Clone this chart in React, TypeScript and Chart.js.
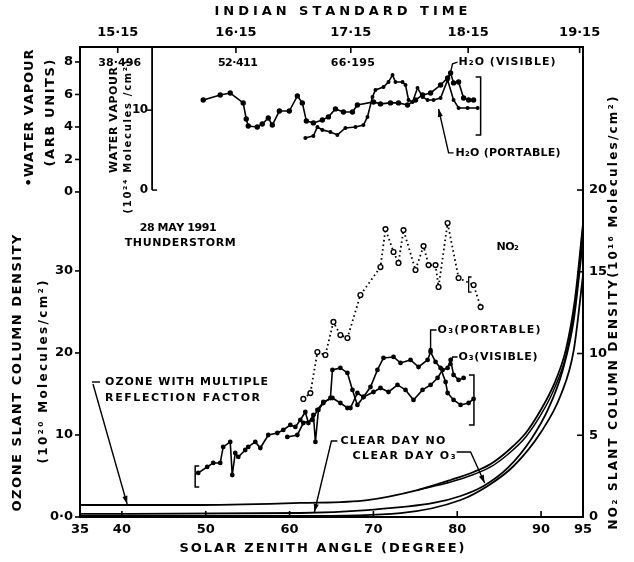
import React, { useEffect, useRef } from 'react';
import { Chart, registerables } from 'chart.js';

Chart.register(...registerables);

// ---------- axis ranges & ticks ----------
const SZA_MIN = 35;
const SZA_MAX = 95;
const OZONE_MIN = 0;
const OZONE_MAX = 57.3;
const NO2_MIN = 0;
const NO2_MAX = 28.75;
const VAPOUR_MIN = -20.0;
const VAPOUR_MAX = 8.92;
const VAPOUR_MOL_MIN = -40.9;
const VAPOUR_MOL_MAX = 17.9;

const szaTicks = [35, 40, 50, 60, 70, 80, 90, 95];
const istTickSza = [39.5, 53.6, 67.3, 81.3, 94.6];
const istLabels = ['15·15', '16·15', '17·15', '18·15', '19·15'];
const istSzaLabels = ['38·496', '52·411', '66·195'];
const ozoneTicks = [0, 10, 20, 30];
const ozoneTickLabels = ['0·0', '10', '20', '30'];
const vapourTicks = [0, 2, 4, 6, 8];
const vapourMolTicks = [0, 10];
const vapourMolAxisSza = 43.6;
const no2Ticks = [0, 5, 10, 15, 20];

// ---------- water vapour (arb units) ----------
const h2oVisibleSza = [49.70, 51.73, 52.92, 54.47, 54.83, 55.07, 56.15, 56.74, 57.46, 57.94, 58.78, 59.97, 60.93, 61.52, 62.00, 62.84, 63.91, 64.63, 65.47, 66.42, 67.50, 68.09, 70.01, 70.84, 72.04, 72.99, 74.07, 75.02, 75.86, 76.82, 78.01, 78.85, 79.21, 79.56, 80.16, 80.76, 81.36, 81.95];
const h2oVisible = [5.66, 5.97, 6.09, 5.48, 4.49, 4.06, 4.00, 4.18, 4.55, 4.12, 4.98, 4.98, 5.91, 5.48, 4.37, 4.25, 4.43, 4.62, 5.11, 4.92, 4.92, 5.35, 5.54, 5.42, 5.48, 5.48, 5.35, 5.66, 5.97, 6.09, 6.58, 7.02, 7.32, 6.71, 6.77, 5.78, 5.66, 5.66];

const h2oPortableSza = [61.88, 62.84, 63.32, 63.91, 64.87, 65.70, 66.66, 67.86, 68.81, 69.29, 69.89, 70.24, 71.20, 71.80, 72.28, 72.63, 73.47, 73.83, 74.19, 74.67, 75.26, 75.86, 76.46, 77.17, 78.01, 78.85, 79.56, 80.16, 81.24, 82.43];
const h2oPortable = [3.32, 3.45, 4.00, 3.82, 3.69, 3.51, 3.94, 4.00, 4.12, 4.62, 5.85, 6.28, 6.46, 6.77, 7.20, 6.77, 6.77, 6.58, 5.66, 5.54, 6.40, 5.85, 5.66, 5.66, 5.78, 6.89, 5.66, 5.17, 5.17, 5.17];

const h2oBarSza = [82.19, 82.79, 82.79, 82.19];
const h2oBar = [7.08, 7.08, 3.51, 3.51];

// ---------- ozone (10^20 molecules/cm^2) ----------
const o3PortableSza = [49.10, 50.17, 50.89, 51.73, 52.08, 52.92, 53.16, 53.52, 53.88, 54.71, 55.07, 55.91, 56.51, 57.46, 58.54, 59.25, 60.09, 60.69, 61.28, 61.88, 62.24, 62.84, 63.08, 63.44, 64.03, 64.87, 65.11, 66.06, 66.90, 67.50, 68.09, 68.81, 69.65, 70.48, 71.20, 72.40, 73.23, 74.43, 75.38, 76.46, 76.82, 77.41, 78.01, 78.61, 78.85, 79.56, 80.40, 81.36, 81.95];
const o3Portable = [5.37, 6.10, 6.59, 6.59, 8.54, 9.15, 5.12, 7.80, 7.32, 8.17, 8.54, 9.15, 8.41, 10.00, 10.24, 10.61, 11.22, 10.98, 11.83, 12.80, 11.46, 12.44, 9.15, 13.05, 13.90, 14.51, 17.93, 18.17, 17.56, 15.49, 13.66, 14.63, 15.85, 17.93, 19.39, 19.51, 18.78, 19.15, 18.29, 19.15, 20.12, 18.90, 18.17, 16.46, 15.12, 14.27, 13.66, 13.90, 14.39];

const o3VisibleSza = [59.73, 60.93, 61.64, 62.72, 63.32, 64.03, 65.11, 66.06, 66.90, 67.26, 68.09, 68.81, 70.01, 70.84, 71.80, 72.87, 73.83, 74.78, 75.86, 76.82, 77.65, 78.25, 78.85, 79.21, 79.56, 80.16, 80.76];
const o3Visible = [9.76, 10.00, 11.46, 11.83, 13.05, 14.02, 14.51, 13.90, 13.29, 13.29, 15.12, 14.63, 15.24, 15.73, 15.24, 16.10, 15.49, 14.27, 15.49, 16.10, 16.95, 17.93, 18.17, 19.15, 17.32, 16.71, 16.95];

const o3BarLeftSza = [49.22, 48.74, 48.74, 49.22];
const o3BarLeft = [6.22, 6.22, 3.66, 3.66];
const o3BarRightSza = [81.39, 81.99, 81.99, 81.39];
const o3BarRight = [17.32, 17.32, 11.22, 11.22];

// ---------- NO2 (10^16 molecules/cm^2) ----------
const no2Sza = [61.64, 62.48, 63.32, 64.27, 65.23, 66.06, 66.90, 68.45, 70.84, 71.44, 72.40, 72.99, 73.59, 75.02, 75.98, 76.58, 77.41, 77.77, 78.85, 80.16, 81.95, 82.79];
const no2 = [7.22, 7.58, 10.09, 9.91, 11.93, 11.13, 10.95, 13.58, 15.29, 17.61, 16.21, 15.54, 17.55, 15.11, 16.57, 15.41, 15.41, 14.07, 17.98, 14.62, 14.19, 12.84];
const no2BarSza = [81.71, 81.36, 81.36, 81.71];
const no2Bar = [14.68, 14.68, 13.76, 13.76];

// ---------- clear day model curves ----------
const reflSza = [35, 49.34, 61.28, 69.29, 75.26, 79.21, 81.95, 83.98, 86.02, 88.17, 89.96, 91.51, 92.95, 94.03, 95];
const refl = [1.46, 1.46, 1.71, 2.07, 3.29, 4.51, 5.49, 6.46, 8.05, 10.24, 13.05, 16.10, 20.37, 26.46, 35.73];
const refl2Sza = [75.26, 79.21, 81.95, 83.98, 86.02, 88.17, 89.96, 91.51, 92.95, 94.03, 94.98];
const refl2 = [3.29, 4.27, 5.18, 6.10, 7.62, 9.76, 12.44, 15.49, 19.63, 25.73, 35.24];
const clearO3Sza = [35, 61.28, 69.29, 77.17, 80.40, 83.15, 86.02, 88.76, 90.91, 92.59, 93.90, 95];
const clearO3 = [0.37, 0.49, 0.85, 1.71, 2.56, 3.78, 5.98, 9.39, 13.29, 17.93, 24.02, 33.78];
const clearNo2Sza = [35, 61.28, 73.23, 80.40, 83.63, 86.73, 90.00, 92.35, 93.90, 95];
const clearNo2 = [0.06, 0.06, 0.24, 1.04, 1.90, 3.12, 5.20, 7.46, 10.21, 14.80];

// ---------- annotations (sza, ozone-axis units) ----------
type Note = { text: string; sza: number; oz: number; width: number; align: 'left' | 'center' | 'right'; size: number };
const notes: Note[] = [
  { text: '28 MAY 1991', sza: 46.71, oz: 35.24, width: 77, align: 'center', size: 11 },
  { text: 'THUNDERSTORM', sza: 46.95, oz: 33.41, width: 111, align: 'center', size: 11 },
  { text: 'NO₂', sza: 86.02, oz: 32.93, width: 19, align: 'center', size: 11 },
  { text: 'O₃(PORTABLE)', sza: 77.65, oz: 22.80, width: 103, align: 'left', size: 11 },
  { text: 'O₃(VISIBLE)', sza: 80.16, oz: 19.51, width: 79, align: 'left', size: 11 },
  { text: 'OZONE WITH MULTIPLE', sza: 37.99, oz: 16.46, width: 163, align: 'left', size: 11 },
  { text: 'REFLECTION FACTOR', sza: 37.99, oz: 14.51, width: 155, align: 'left', size: 11 },
  { text: 'CLEAR DAY NO', sza: 66.06, oz: 9.27, width: 105, align: 'left', size: 11 },
  { text: 'CLEAR DAY O₃', sza: 67.50, oz: 7.44, width: 103, align: 'left', size: 11 },
  { text: 'H₂O (VISIBLE)', sza: 80.16, oz: 55.45, width: 97, align: 'left', size: 11 },
  { text: 'H₂O (PORTABLE)', sza: 79.80, oz: 44.39, width: 105, align: 'left', size: 11 },
];
type Leader = { pts: [number, number][]; arrow?: boolean; dot?: boolean };
const leaders: Leader[] = [
  { pts: [[77.53, 22.80], [76.82, 22.80], [76.82, 20.37]], dot: true },
  { pts: [[80.04, 19.51], [79.44, 19.51], [79.21, 18.66]], dot: true },
  { pts: [[37.39, 16.46], [36.43, 16.46]] },
  { pts: [[36.55, 16.22], [40.62, 1.59]], arrow: true },
  { pts: [[65.70, 9.27], [64.99, 9.27], [62.96, 0.61]], arrow: true },
  { pts: [[79.92, 7.93], [81.59, 7.93], [83.27, 4.15]], arrow: true },
  { pts: [[80.04, 55.45], [79.44, 55.24], [79.21, 54.27]] },
  { pts: [[79.56, 44.39], [78.97, 44.39], [77.77, 49.76]], arrow: true },
];

const FONT = '"DejaVu Sans", sans-serif';

function spaced(ctx: CanvasRenderingContext2D, text: string, x: number, y: number, width: number,
  align: 'left' | 'center' | 'right', size: number, rot = 0) {
  ctx.save();
  ctx.translate(x, y);
  if (rot) ctx.rotate(rot);
  ctx.font = `bold ${size}px ${FONT}`;
  ctx.fillStyle = '#000';
  ctx.textBaseline = 'middle';
  ctx.textAlign = 'left';
  const chars = Array.from(text);
  const ws = chars.map((c) => ctx.measureText(c).width);
  const nat = ws.reduce((a, b) => a + b, 0);
  const gap = chars.length > 1 ? Math.max(-0.5, (width - nat) / (chars.length - 1)) : 0;
  const total = nat + gap * (chars.length - 1);
  let cx = align === 'center' ? -total / 2 : align === 'right' ? -total : 0;
  chars.forEach((c, i) => {
    ctx.fillText(c, cx, 0);
    cx += ws[i] + gap;
  });
  ctx.restore();
}

function seg(ctx: CanvasRenderingContext2D, x0: number, y0: number, x1: number, y1: number) {
  ctx.beginPath();
  ctx.moveTo(x0, y0);
  ctx.lineTo(x1, y1);
  ctx.stroke();
}

function arrowHead(ctx: CanvasRenderingContext2D, x0: number, y0: number, x1: number, y1: number) {
  const a = Math.atan2(y1 - y0, x1 - x0);
  const len = 8, half = 2.6;
  ctx.beginPath();
  ctx.moveTo(x1, y1);
  ctx.lineTo(x1 - len * Math.cos(a) + half * Math.sin(a), y1 - len * Math.sin(a) - half * Math.cos(a));
  ctx.lineTo(x1 - len * Math.cos(a) - half * Math.sin(a), y1 - len * Math.sin(a) + half * Math.cos(a));
  ctx.closePath();
  ctx.fill();
}

const decorPlugin = {
  id: 'decor',
  afterDatasetsDraw(chart: any) {
    const { ctx, chartArea: a, scales } = chart;
    const X = (s: number) => scales.x.getPixelForValue(s);
    const O = (v: number) => scales.y.getPixelForValue(v);
    const M = (v: number) => scales.yM.getPixelForValue(v);
    ctx.save();
    ctx.strokeStyle = '#000';
    ctx.fillStyle = '#000';
    ctx.lineWidth = 1.6;

    // tick marks
    szaTicks.forEach((v) => seg(ctx, X(v), a.bottom, X(v), a.bottom - 6));
    istTickSza.forEach((v) => seg(ctx, X(v), a.top, X(v), a.top + 6));
    no2Ticks.forEach((v) => {
      const y = scales.y2.getPixelForValue(v);
      seg(ctx, a.right, y, a.right - 6, y);
    });
    scales.y.ticks.forEach((t: any) => {
      const y = O(t.value);
      seg(ctx, a.left - 5, y, a.left, y);
    });

    // inner water-vapour (10^24) axis
    const ix = X(vapourMolAxisSza);
    ctx.lineWidth = 1.8;
    seg(ctx, ix, a.top, ix, M(0));
    ctx.lineWidth = 1.5;
    vapourMolTicks.forEach((v) => {
      const y = M(v);
      if (v === 0) seg(ctx, ix, y, ix + 5, y);
      else seg(ctx, ix - 5, y, ix, y);
      spaced(ctx, String(v), ix - 4, y, v === 0 ? 7 : 12, 'right', 12);
    });
    spaced(ctx, 'WATER VAPOUR', 114, 120, 106, 'center', 11, -Math.PI / 2);
    spaced(ctx, '(10²⁴ Molecules /cm²)', 128, 137, 153, 'center', 10, -Math.PI / 2);

    // SZA values at IST ticks
    const szaW = [43, 39, 44];
    istSzaLabels.forEach((t, i) => spaced(ctx, t, X(istTickSza[i]) + 2, O(55.37), szaW[i], 'center', 11));

    // leaders
    ctx.lineWidth = 1.4;
    leaders.forEach((l) => {
      const p = l.pts.map(([s, v]) => [X(s), O(v)]);
      ctx.beginPath();
      p.forEach(([x, y], i) => (i ? ctx.lineTo(x, y) : ctx.moveTo(x, y)));
      ctx.stroke();
      const n = p.length;
      if (l.arrow) arrowHead(ctx, p[n - 2][0], p[n - 2][1], p[n - 1][0], p[n - 1][1]);
      if (l.dot) {
        ctx.beginPath();
        ctx.arc(p[n - 1][0], p[n - 1][1], 2.2, 0, Math.PI * 2);
        ctx.fill();
      }
    });

    notes.forEach((n) => spaced(ctx, n.text, X(n.sza), O(n.oz), n.width, n.align, n.size));
    ctx.restore();
  },
  afterDraw(chart: any) {
    const { ctx } = chart;
    spaced(ctx, 'INDIAN STANDARD TIME', 341, 12, 253, 'center', 13);
    spaced(ctx, 'SOLAR ZENITH ANGLE (DEGREE)', 322, 549, 285, 'center', 13);
    spaced(ctx, '•WATER VAPOUR', 30, 118, 137, 'center', 13, -Math.PI / 2);
    spaced(ctx, '(ARB UNITS)', 51, 113, 107, 'center', 13, -Math.PI / 2);
    spaced(ctx, 'OZONE SLANT COLUMN DENSITY', 18, 373, 277, 'center', 13, -Math.PI / 2);
    spaced(ctx, '(10²⁰ Molecules/cm²)', 44, 372, 183, 'center', 12, -Math.PI / 2);
    spaced(ctx, 'NO₂ SLANT COLUMN DENSITY(10¹⁶ Molecules/cm²)', 614, 313, 433, 'center', 12, -Math.PI / 2);
  },
};

const zip = (xs: number[], ys: number[]) => xs.map((x, i) => ({ x, y: ys[i] }));

export default function App() {
  const ref = useRef<HTMLCanvasElement>(null);

  useEffect(() => {
    const tickFont = { family: FONT, weight: 'bold' as const, size: 13 };
    const axisBase = {
      type: 'linear' as const,
      grid: { display: false, drawTicks: false },
      border: { display: true, color: '#000', width: 2 },
    };
    const line = (data: any[], yAxisID: string, extra: any = {}) => ({
      data,
      yAxisID,
      xAxisID: 'x',
      showLine: true,
      borderColor: '#000',
      backgroundColor: '#000',
      borderWidth: 1.6,
      pointRadius: 0,
      tension: 0,
      ...extra,
    });

    const chart = new Chart(ref.current as HTMLCanvasElement, {
      type: 'scatter',
      data: {
        datasets: [
          line(zip(h2oVisibleSza, h2oVisible), 'yW', { pointRadius: 1.9 }),
          line(zip(h2oPortableSza, h2oPortable), 'yW', { pointRadius: 1.2 }),
          line(zip(h2oBarSza, h2oBar), 'yW', { borderWidth: 1.5 }),
          line(zip(o3PortableSza, o3Portable), 'y', { pointRadius: 1.6 }),
          line(zip(o3VisibleSza, o3Visible), 'y', { pointRadius: 1.6 }),
          line(zip(o3BarLeftSza, o3BarLeft), 'y', { borderWidth: 1.5 }),
          line(zip(o3BarRightSza, o3BarRight), 'y', { borderWidth: 1.5 }),
          line(zip(no2Sza, no2), 'y2', {
            borderDash: [1.6, 3],
            borderWidth: 1.8,
            pointRadius: 2.4,
            pointBackgroundColor: '#fff',
            pointBorderColor: '#000',
            pointBorderWidth: 1.4,
          }),
          line(zip(no2BarSza, no2Bar), 'y2', { borderWidth: 1.3 }),
          line(zip(reflSza, refl), 'y', { cubicInterpolationMode: 'monotone', borderWidth: 1.8 }),
          line(zip(refl2Sza, refl2), 'y', { cubicInterpolationMode: 'monotone', borderWidth: 1.5 }),
          line(zip(clearO3Sza, clearO3), 'y', { cubicInterpolationMode: 'monotone', borderWidth: 1.8 }),
          line(zip(clearNo2Sza, clearNo2), 'y2', { cubicInterpolationMode: 'monotone', borderWidth: 1.8 }),
        ],
      },
      options: {
        responsive: false,
        animation: false,
        devicePixelRatio: 1,
        events: [],
        layout: { padding: 0 },
        plugins: { legend: { display: false }, tooltip: { enabled: false } },
        scales: {
          x: {
            ...axisBase,
            position: 'bottom',
            min: SZA_MIN,
            max: SZA_MAX,
            ticks: { autoSkip: false, maxRotation: 0, color: '#000', font: tickFont, padding: 5, callback: (v: any) => String(v) },
            afterBuildTicks: (s: any) => { s.ticks = szaTicks.map((v) => ({ value: v })); },
            afterFit: (s: any) => { s.height = 45; },
          },
          x2: {
            ...axisBase,
            position: 'top',
            min: SZA_MIN,
            max: SZA_MAX,
            ticks: {
              autoSkip: false, maxRotation: 0, color: '#000', font: tickFont, padding: 7,
              callback: (_v: any, i: number, ticks: any[]) => ticks[i].lbl,
            },
            afterBuildTicks: (s: any) => { s.ticks = istTickSza.map((v, i) => ({ value: v, lbl: istLabels[i] })); },
            afterFit: (s: any) => { s.height = 47; },
          },
          y: {
            ...axisBase,
            position: 'left',
            min: OZONE_MIN,
            max: OZONE_MAX,
            ticks: {
              autoSkip: false, color: '#000', font: tickFont, padding: 7,
              callback: (_v: any, i: number, ticks: any[]) => ticks[i].lbl,
            },
            afterBuildTicks: (s: any) => {
              const conv = (w: number) => s.min + ((w - VAPOUR_MIN) / (VAPOUR_MAX - VAPOUR_MIN)) * (s.max - s.min);
              s.ticks = [
                ...ozoneTicks.map((v, i) => ({ value: v, lbl: ozoneTickLabels[i] })),
                ...vapourTicks.map((w) => ({ value: conv(w), lbl: String(w) })),
              ].sort((p, q) => p.value - q.value);
            },
            afterFit: (s: any) => { s.width = 80; },
          },
          y2: {
            ...axisBase,
            position: 'right',
            min: NO2_MIN,
            max: NO2_MAX,
            ticks: { autoSkip: false, color: '#000', font: tickFont, padding: 6, callback: (v: any) => String(v) },
            afterBuildTicks: (s: any) => { s.ticks = no2Ticks.map((v) => ({ value: v })); },
            afterFit: (s: any) => { s.width = 51; },
          },
          yW: { type: 'linear', display: false, min: VAPOUR_MIN, max: VAPOUR_MAX },
          yM: { type: 'linear', display: false, min: VAPOUR_MOL_MIN, max: VAPOUR_MOL_MAX },
        },
      } as any,
      plugins: [decorPlugin],
    });
    return () => chart.destroy();
  }, []);

  return (
    <div style={{ position: 'absolute', left: 0, top: 0, width: 634, height: 562, background: '#fff' }}>
      <canvas ref={ref} width={634} height={562} style={{ display: 'block', width: 634, height: 562 }} />
    </div>
  );
}
